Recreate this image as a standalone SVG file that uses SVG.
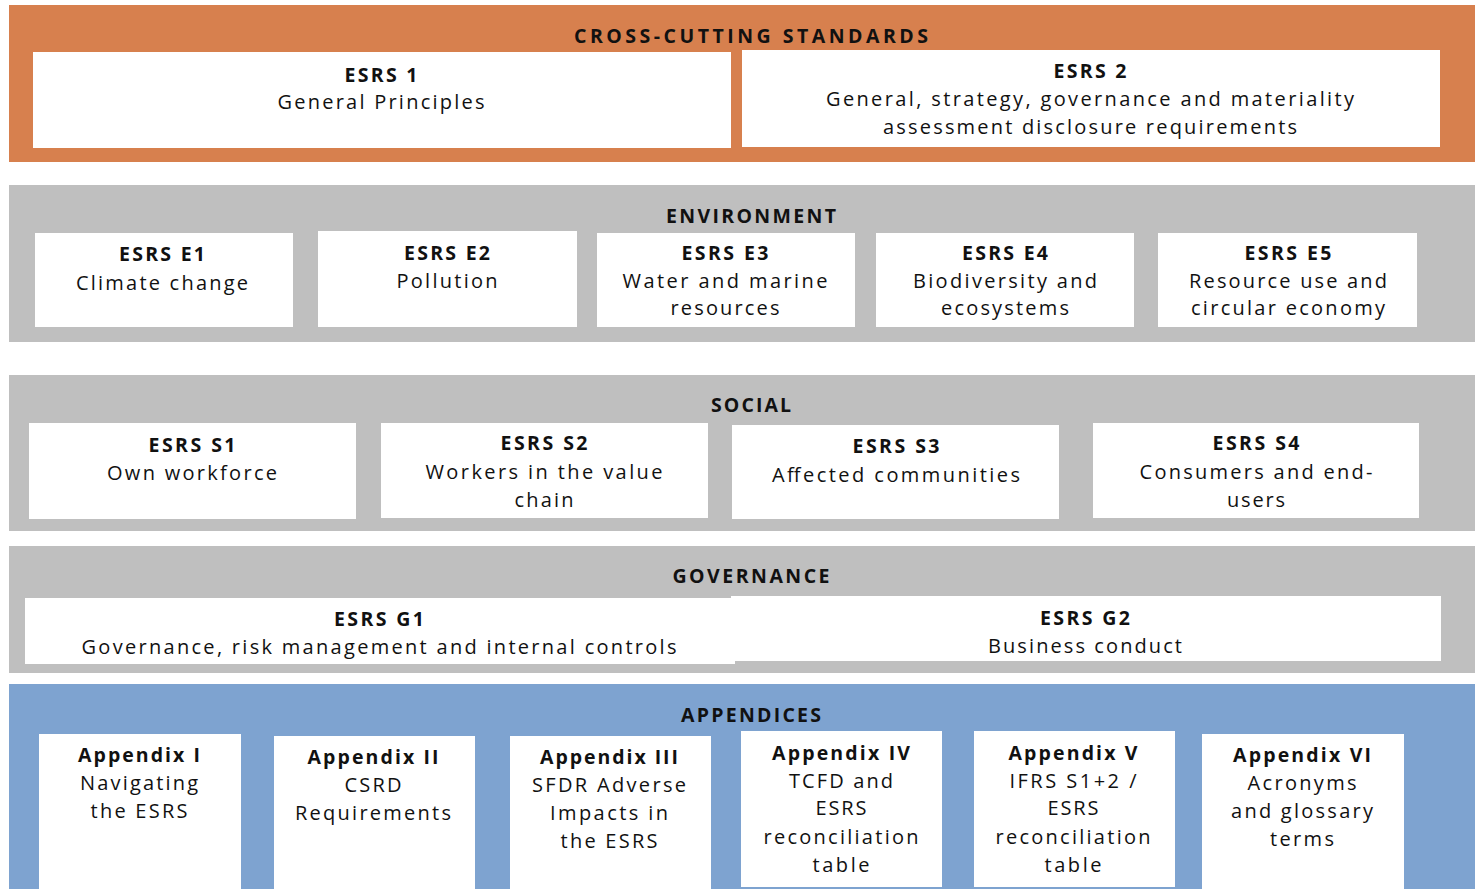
<svg xmlns="http://www.w3.org/2000/svg" width="1475" height="889" viewBox="0 0 1475 889">
<style>
.bg{fill:#ffffff}
.orange{fill:#D7804E}
.gray{fill:#BFBFBF}
.blue{fill:#7EA3D0}
.box{fill:#ffffff}
text{font-family:"Open Sans","Liberation Sans",sans-serif;font-size:20px;fill:#111111;text-anchor:middle}
.h{font-weight:bold;font-size:19.5px}
</style>
<rect class="bg" x="0" y="0" width="1475" height="889"/>

<g id="band-cross-cutting">
<rect class="orange" x="9" y="5" width="1466" height="157"/>
<text class="h" x="751" y="43" textLength="354" lengthAdjust="spacing">CROSS-CUTTING STANDARDS</text>
</g>
<g id="esrs1">
<rect class="box" x="33" y="52" width="698" height="96"/>
<text class="h" x="381" y="82" textLength="73" lengthAdjust="spacing">ESRS 1</text>
<text x="381" y="109" textLength="207" lengthAdjust="spacing">General Principles</text>
</g>
<g id="esrs2">
<rect class="box" x="742" y="50" width="698" height="97"/>
<text class="h" x="1090" y="78" textLength="73" lengthAdjust="spacing">ESRS 2</text>
<text x="1090" y="106" textLength="528" lengthAdjust="spacing">General, strategy, governance and materiality</text>
<text x="1090" y="134" textLength="414" lengthAdjust="spacing">assessment disclosure requirements</text>
</g>

<g id="band-environment">
<rect class="gray" x="9" y="185" width="1466" height="157"/>
<text class="h" x="751" y="223" textLength="170" lengthAdjust="spacing">ENVIRONMENT</text>
</g>
<g id="esrs-e1">
<rect class="box" x="35" y="233" width="258" height="94"/>
<text class="h" x="162" y="261" textLength="86" lengthAdjust="spacing">ESRS E1</text>
<text x="162" y="290" textLength="172" lengthAdjust="spacing">Climate change</text>
</g>
<g id="esrs-e2">
<rect class="box" x="318" y="231" width="259" height="96"/>
<text class="h" x="447" y="260" textLength="86" lengthAdjust="spacing">ESRS E2</text>
<text x="447" y="288" textLength="101" lengthAdjust="spacing">Pollution</text>
</g>
<g id="esrs-e3">
<rect class="box" x="597" y="233" width="258" height="94"/>
<text class="h" x="725" y="260" textLength="87" lengthAdjust="spacing">ESRS E3</text>
<text x="725" y="288" textLength="205" lengthAdjust="spacing">Water and marine</text>
<text x="725" y="315" textLength="109" lengthAdjust="spacing">resources</text>
</g>
<g id="esrs-e4">
<rect class="box" x="876" y="233" width="258" height="94"/>
<text class="h" x="1005" y="260" textLength="86" lengthAdjust="spacing">ESRS E4</text>
<text x="1005" y="288" textLength="184" lengthAdjust="spacing">Biodiversity and</text>
<text x="1005" y="315" textLength="128" lengthAdjust="spacing">ecosystems</text>
</g>
<g id="esrs-e5">
<rect class="box" x="1158" y="233" width="259" height="94"/>
<text class="h" x="1288" y="260" textLength="87" lengthAdjust="spacing">ESRS E5</text>
<text x="1288" y="288" textLength="198" lengthAdjust="spacing">Resource use and</text>
<text x="1288" y="315" textLength="194" lengthAdjust="spacing">circular economy</text>
</g>

<g id="band-social">
<rect class="gray" x="9" y="375" width="1466" height="156"/>
<text class="h" x="751" y="412" textLength="80" lengthAdjust="spacing">SOCIAL</text>
</g>
<g id="esrs-s1">
<rect class="box" x="29" y="423" width="327" height="96"/>
<text class="h" x="192" y="452" textLength="87" lengthAdjust="spacing">ESRS S1</text>
<text x="192" y="480" textLength="170" lengthAdjust="spacing">Own workforce</text>
</g>
<g id="esrs-s2">
<rect class="box" x="381" y="423" width="327" height="95"/>
<text class="h" x="544" y="450" textLength="87" lengthAdjust="spacing">ESRS S2</text>
<text x="544" y="479" textLength="237" lengthAdjust="spacing">Workers in the value</text>
<text x="544" y="507" textLength="59" lengthAdjust="spacing">chain</text>
</g>
<g id="esrs-s3">
<rect class="box" x="732" y="425" width="327" height="94"/>
<text class="h" x="896" y="453" textLength="87" lengthAdjust="spacing">ESRS S3</text>
<text x="896" y="482" textLength="248" lengthAdjust="spacing">Affected communities</text>
</g>
<g id="esrs-s4">
<rect class="box" x="1093" y="423" width="326" height="95"/>
<text class="h" x="1256" y="450" textLength="87" lengthAdjust="spacing">ESRS S4</text>
<text x="1256" y="479" textLength="233" lengthAdjust="spacing">Consumers and end-</text>
<text x="1256" y="507" textLength="58" lengthAdjust="spacing">users</text>
</g>

<g id="band-governance">
<rect class="gray" x="9" y="546" width="1466" height="127"/>
<text class="h" x="751" y="583" textLength="157" lengthAdjust="spacing">GOVERNANCE</text>
</g>
<g id="esrs-g1">
<rect class="box" x="25" y="598" width="710" height="66"/>
<text class="h" x="379" y="626" textLength="90" lengthAdjust="spacing">ESRS G1</text>
<text x="379" y="654" textLength="595" lengthAdjust="spacing">Governance, risk management and internal controls</text>
</g>
<g id="esrs-g2">
<rect class="box" x="731" y="596" width="710" height="65"/>
<text class="h" x="1085" y="625" textLength="90" lengthAdjust="spacing">ESRS G2</text>
<text x="1085" y="653" textLength="194" lengthAdjust="spacing">Business conduct</text>
</g>

<g id="band-appendices">
<rect class="blue" x="9" y="684" width="1466" height="205"/>
<text class="h" x="751" y="722" textLength="140" lengthAdjust="spacing">APPENDICES</text>
</g>
<g id="appendix-1">
<rect class="box" x="39" y="734" width="202" height="155"/>
<text class="h" x="139" y="762" textLength="122" lengthAdjust="spacing">Appendix I</text>
<text x="139" y="790" textLength="118" lengthAdjust="spacing">Navigating</text>
<text x="139" y="818" textLength="97" lengthAdjust="spacing">the ESRS</text>
</g>
<g id="appendix-2">
<rect class="box" x="274" y="736" width="201" height="153"/>
<text class="h" x="373" y="764" textLength="131" lengthAdjust="spacing">Appendix II</text>
<text x="373" y="792" textLength="57" lengthAdjust="spacing">CSRD</text>
<text x="373" y="820" textLength="156" lengthAdjust="spacing">Requirements</text>
</g>
<g id="appendix-3">
<rect class="box" x="510" y="736" width="201" height="153"/>
<text class="h" x="609" y="764" textLength="138" lengthAdjust="spacing">Appendix III</text>
<text x="609" y="792" textLength="154" lengthAdjust="spacing">SFDR Adverse</text>
<text x="609" y="820" textLength="118" lengthAdjust="spacing">Impacts in</text>
<text x="609" y="848" textLength="97" lengthAdjust="spacing">the ESRS</text>
</g>
<g id="appendix-4">
<rect class="box" x="741" y="731" width="201" height="156"/>
<text class="h" x="841" y="760" textLength="138" lengthAdjust="spacing">Appendix IV</text>
<text x="841" y="788" textLength="104" lengthAdjust="spacing">TCFD and</text>
<text x="841" y="815" textLength="51" lengthAdjust="spacing">ESRS</text>
<text x="841" y="844" textLength="155" lengthAdjust="spacing">reconciliation</text>
<text x="841" y="872" textLength="57" lengthAdjust="spacing">table</text>
</g>
<g id="appendix-5">
<rect class="box" x="974" y="731" width="201" height="156"/>
<text class="h" x="1073" y="760" textLength="129" lengthAdjust="spacing">Appendix V</text>
<text x="1073" y="788" textLength="127" lengthAdjust="spacing">IFRS S1+2 /</text>
<text x="1073" y="815" textLength="51" lengthAdjust="spacing">ESRS</text>
<text x="1073" y="844" textLength="155" lengthAdjust="spacing">reconciliation</text>
<text x="1073" y="872" textLength="57" lengthAdjust="spacing">table</text>
</g>
<g id="appendix-6">
<rect class="box" x="1202" y="734" width="202" height="155"/>
<text class="h" x="1302" y="762" textLength="138" lengthAdjust="spacing">Appendix VI</text>
<text x="1302" y="790" textLength="109" lengthAdjust="spacing">Acronyms</text>
<text x="1302" y="818" textLength="142" lengthAdjust="spacing">and glossary</text>
<text x="1302" y="846" textLength="64" lengthAdjust="spacing">terms</text>
</g>
<g id="connectors"/>
</svg>
